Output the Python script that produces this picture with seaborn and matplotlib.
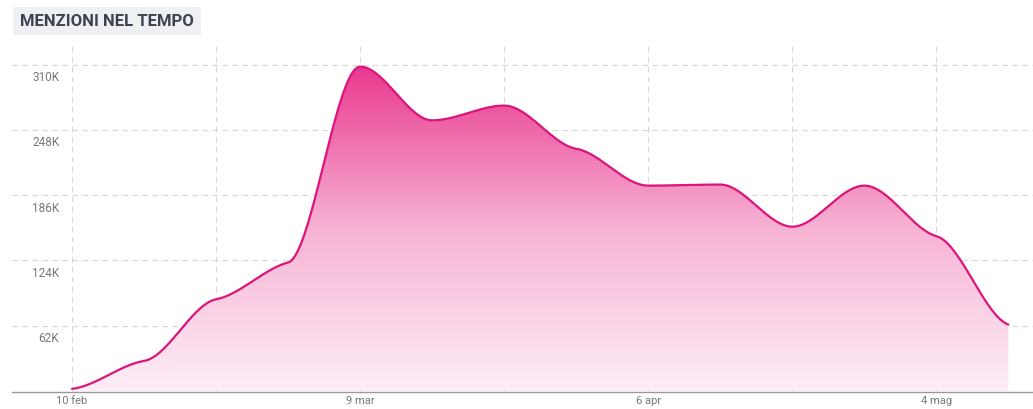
import numpy as np
import pandas as pd
import matplotlib
matplotlib.use("Agg")
import matplotlib.pyplot as plt
import matplotlib.transforms as mtransforms
import seaborn as sns
from matplotlib.colors import LinearSegmentedColormap

# weekly mentions, 10 feb -> 11 mag
days = [0, 7, 14, 21, 28, 35, 42, 49, 56, 63, 70, 77, 84, 91]
mentions = [2000, 28500, 87000, 122000, 308000, 257000, 271000, 230000,
            195000, 196000, 156000, 195000, 147000, 63000]
tick_days = [0, 28, 56, 84]
tick_labels = ["10 feb", "9 mar", "6 apr", "4 mag"]
grid_days = [14, 42, 70]
ytick_values = [62000, 124000, 186000, 248000, 310000]
ytick_labels = ["62K", "124K", "186K", "248K", "310K"]


def smooth_curve(x, y, n=40, k=0.3):
    # hermite curve with damped slopes -> flat-ish shoulders at each point
    x = np.asarray(x, float)
    y = np.asarray(y, float)
    h = np.diff(x)
    d = np.diff(y) / h
    m = np.zeros_like(y)
    for i in range(1, len(y) - 1):
        if d[i - 1] * d[i] > 0:
            m[i] = k * 2 / (1 / d[i - 1] + 1 / d[i])
    m[0], m[-1] = k * d[0], k * d[-1]
    xs, ys = [], []
    for i in range(len(h)):
        t = np.linspace(0, 1, n, endpoint=False)
        h00 = 2 * t**3 - 3 * t**2 + 1
        h10 = t**3 - 2 * t**2 + t
        h01 = -2 * t**3 + 3 * t**2
        h11 = t**3 - t**2
        xs.append(x[i] + t * h[i])
        ys.append(h00 * y[i] + h10 * h[i] * m[i] + h01 * y[i + 1] + h11 * h[i] * m[i + 1])
    xs.append([x[-1]])
    ys.append([y[-1]])
    return np.concatenate(xs), np.concatenate(ys)


sns.set_theme(style="white")
plt.rcParams['font.family'] = ['Roboto', 'DejaVu Sans']

fig = plt.figure(figsize=(10.33, 4.10), dpi=100)
ax = fig.add_axes([12 / 1033, 1 - 393 / 410, 1 - 12 / 1033, (393 - 45) / 410])

xs, ys = smooth_curve(days, mentions)
df = pd.DataFrame({"day": xs, "mentions": ys})

# gradient fill under the curve
ymax = max(mentions)
cmap = LinearSegmentedColormap.from_list("pinkfade", ["#fdeef6", "#f7b3d4", "#e9388f"])
grad = np.linspace(0, 1, 256).reshape(-1, 1)
img = ax.imshow(grad, cmap=cmap, aspect="auto", origin="lower",
                extent=[days[0], days[-1], 0, ymax], zorder=1)
poly = ax.fill_between(df["day"], df["mentions"], 0, color="none", zorder=1)
img.set_clip_path(poly.get_paths()[0], ax.transData)

sns.lineplot(data=df, x="day", y="mentions", ax=ax, color="#dc147c",
             linewidth=1.6, zorder=3, sort=False)

ax.set_xlim(-60 / 10.29, (1033 - 72) / 10.29)
ax.set_ylim(-1000, 329500)

ax.set_xticks(tick_days, tick_labels)
ax.set_xticks(grid_days, minor=True)
ax.set_yticks(ytick_values, ytick_labels)
ax.tick_params(axis="x", which="both", length=0, pad=2.5, labelsize=8, labelcolor="#777777")
ax.tick_params(axis="y", length=0, pad=-34, labelsize=8.5, labelcolor="#777777")
shift = mtransforms.ScaledTranslation(0, -4 / 72, fig.dpi_scale_trans)
for lab in ax.get_yticklabels():
    lab.set_va("top")
    lab.set_transform(lab.get_transform() + shift)

ax.grid(True, which="both", axis="x", color="#d6d6d6", linestyle=(0, (5, 4)), linewidth=0.8, zorder=0)
ax.grid(True, which="major", axis="y", color="#d6d6d6", linestyle=(0, (5, 4)), linewidth=0.8, zorder=0)

for s in ["top", "right", "left"]:
    ax.spines[s].set_visible(False)
ax.spines["bottom"].set_color("#9a9a9a")
ax.spines["bottom"].set_linewidth(1.0)
ax.set_xlabel("")
ax.set_ylabel("")

fig.text(20 / 1033, 1 - 22 / 410, "MENZIONI NEL TEMPO", fontsize=12, fontweight="bold",
         color="#3b4350", va="center", ha="left",
         bbox=dict(boxstyle="square,pad=0.4", facecolor="#eef0f3", edgecolor="none"))

fig.savefig("out.png", dpi=100)
